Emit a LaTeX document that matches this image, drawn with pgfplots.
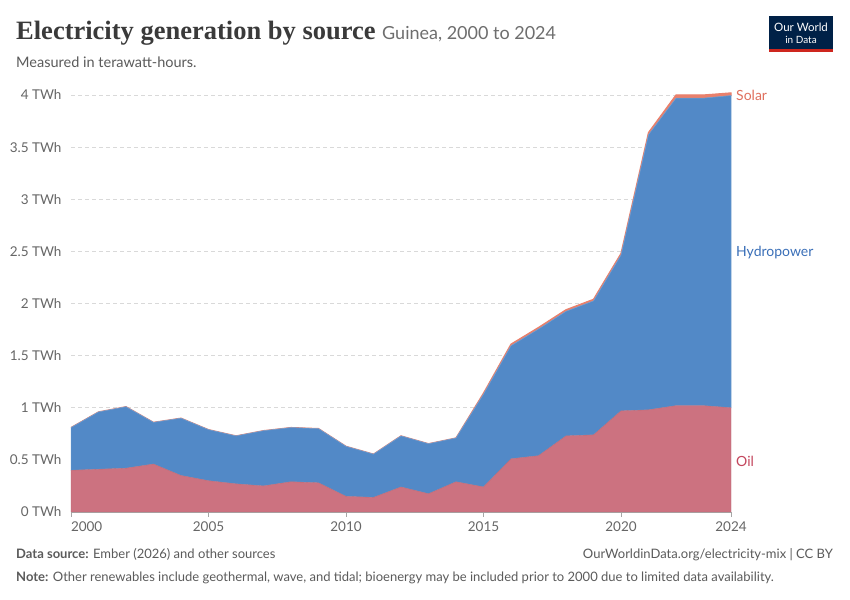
\documentclass[border=0pt]{standalone}
\usepackage{pgfplots}
\pgfplotsset{compat=1.18}
\usepackage{fontspec}
\setmainfont{Lato}
\newfontfamily\titlefont{Liberation Serif}
\definecolor{oilc}{HTML}{CC7280}
\definecolor{hydroc}{HTML}{5289C7}
\definecolor{solarc}{HTML}{E9806C}
\definecolor{oillab}{HTML}{C4475E}
\definecolor{hydrolab}{HTML}{3A6FB8}
\definecolor{solarlab}{HTML}{E0705E}
\definecolor{txtgray}{HTML}{5B5B5B}
\definecolor{tickgray}{HTML}{666666}
\definecolor{owidnavy}{HTML}{002147}
\definecolor{owidred}{HTML}{CE261E}
\begin{document}
\begin{tikzpicture}
\fill[white] (0,0) rectangle (850bp,600bp);
% title
\node[anchor=base west,inner sep=0pt] at (16bp,560bp) {\titlefont\bfseries\fontsize{26.5bp}{30bp}\selectfont\color[HTML]{3A3A3A}Electricity generation by source\ \fontsize{18bp}{20bp}\selectfont\mdseries\rmfamily\color[HTML]{6E6E6E}Guinea, 2000 to 2024};
\node[anchor=base west,inner sep=0pt] at (16bp,532bp) {\fontsize{14.5bp}{16bp}\selectfont\color{txtgray}Measured in terawatt-hours.};
% logo
\fill[owidnavy] (769bp,549bp) rectangle (833bp,584bp);
\fill[owidred] (769bp,548bp) rectangle (833bp,551bp);
\node[align=center,inner sep=0pt,text=white] at (801bp,567bp) {\fontsize{11.5bp}{12.5bp}\selectfont Our World\\in Data};
% footer
\node[anchor=base west,inner sep=0pt] at (16bp,41bp) {\fontsize{13bp}{15bp}\selectfont\color{txtgray}\textbf{Data source:} Ember (2026) and other sources};
\node[anchor=base east,inner sep=0pt] at (833bp,41bp) {\fontsize{13bp}{15bp}\selectfont\color{txtgray}OurWorldinData.org/electricity-mix | CC BY};
\node[anchor=base west,inner sep=0pt] at (16bp,19bp) {\fontsize{13bp}{15bp}\selectfont\color{txtgray}\textbf{Note:} Other renewables include geothermal, wave, and tidal; bioenergy may be included prior to 2000 due to limited data availability.};
\begin{axis}[
  at={(71bp,88bp)}, anchor=south west,
  scale only axis, width=660bp, height=417bp,
  xmin=2000, xmax=2024, ymin=0, ymax=4,
  clip=false,
  stack plots=y,
  axis x line*=bottom, axis y line*=left,
  y axis line style={draw=none},
  x axis line style={draw=gray!70, line width=0.8bp},
  ytick={0,0.5,1,1.5,2,2.5,3,3.5,4},
  yticklabels={0 TWh,0.5 TWh,1 TWh,1.5 TWh,2 TWh,2.5 TWh,3 TWh,3.5 TWh,4 TWh},
  xtick={2000,2005,2010,2015,2020,2024},
  xticklabels={\makebox[0pt][l]{2000},2005,2010,2015,2020,2024},
  ytick style={draw=none},
  xtick style={draw=gray!70, line width=0.8bp},
  tick align=outside, major tick length=5bp,
  ymajorgrids, major grid style={dash pattern=on 4bp off 3bp, draw=gray!30, line width=0.8bp},
  ticklabel style={font=\fontsize{13.5bp}{15bp}\selectfont, text=tickgray},
  yticklabel style={xshift=-1bp},
  xticklabel style={yshift=-1bp},
]
\addplot[fill=oilc, draw=oilc!90!black, line width=0.3bp] coordinates {
(2000,0.40) (2001,0.41) (2002,0.42) (2003,0.46) (2004,0.35) (2005,0.30) (2006,0.27) (2007,0.25) (2008,0.29) (2009,0.28) (2010,0.15) (2011,0.14) (2012,0.24) (2013,0.175) (2014,0.29) (2015,0.24) (2016,0.51) (2017,0.54) (2018,0.73) (2019,0.74) (2020,0.97) (2021,0.98) (2022,1.02) (2023,1.02) (2024,1.00)
} \closedcycle;
\addplot[fill=hydroc, draw=hydroc!80!white, line width=0.5bp] coordinates {
(2000,0.41) (2001,0.55) (2002,0.59) (2003,0.40) (2004,0.55) (2005,0.49) (2006,0.46) (2007,0.53) (2008,0.52) (2009,0.52) (2010,0.48) (2011,0.415) (2012,0.49) (2013,0.48) (2014,0.42) (2015,0.89) (2016,1.085) (2017,1.215) (2018,1.195) (2019,1.285) (2020,1.495) (2021,2.64) (2022,2.95) (2023,2.95) (2024,2.995)
} \closedcycle;
\addplot[fill=solarc, draw=solarc, line width=1.2bp] coordinates {
(2000,0) (2001,0) (2002,0) (2003,0) (2004,0) (2005,0) (2006,0) (2007,0) (2008,0) (2009,0) (2010,0) (2011,0) (2012,0) (2013,0) (2014,0) (2015,0.01) (2016,0.015) (2017,0.015) (2018,0.015) (2019,0.015) (2020,0.015) (2021,0.02) (2022,0.03) (2023,0.03) (2024,0.025)
} \closedcycle;
\node[anchor=west, inner sep=0pt, text=solarlab, font=\fontsize{14bp}{16bp}\selectfont] at (axis cs:2024,4.0) [xshift=5bp] {Solar};
\node[anchor=west, inner sep=0pt, text=hydrolab, font=\fontsize{14bp}{16bp}\selectfont] at (axis cs:2024,2.49) [xshift=5bp] {Hydropower};
\node[anchor=west, inner sep=0pt, text=oillab, font=\fontsize{14bp}{16bp}\selectfont] at (axis cs:2024,0.49) [xshift=5bp] {Oil};
\end{axis}
\end{tikzpicture}
\end{document}
